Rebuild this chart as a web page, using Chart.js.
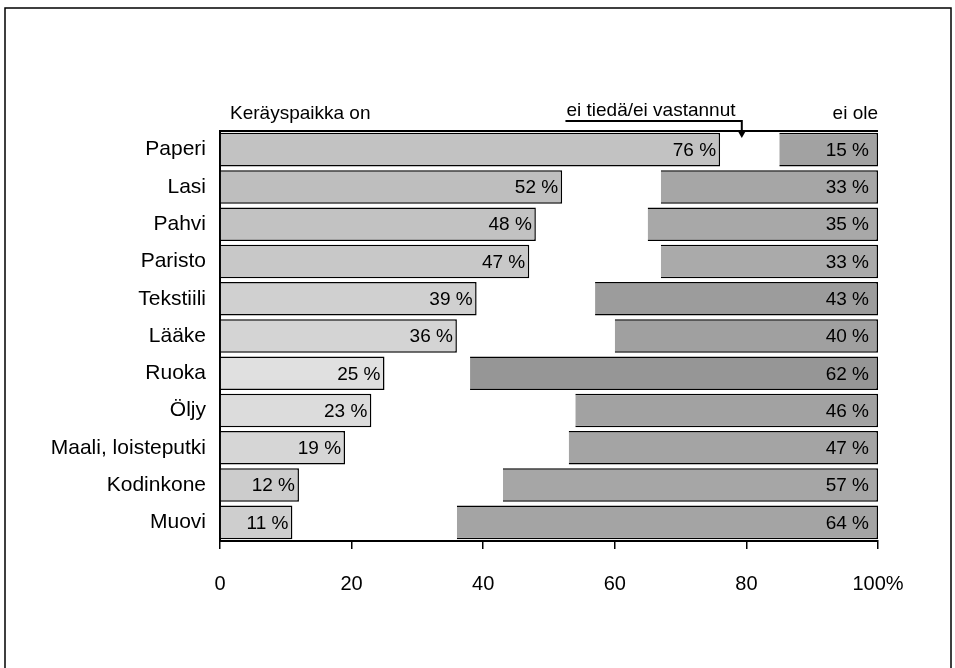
<!DOCTYPE html>
<html>
<head>
<meta charset="utf-8">
<script src="https://cdn.jsdelivr.net/npm/chart.js@4/dist/chart.umd.min.js"></script>
<style>
  html, body { margin: 0; padding: 0; background: #fff; }
  #wrap { width: 955px; height: 668px; position: relative; }
</style>
</head>
<body>
<div id="wrap"><canvas id="chart"></canvas></div>
<script>
const categories = ['Paperi', 'Lasi', 'Pahvi', 'Paristo', 'Tekstiili', 'Lääke', 'Ruoka', 'Öljy', 'Maali, loisteputki', 'Kodinkone', 'Muovi'];
const onValues = [76, 52, 48, 47, 39, 36, 25, 23, 19, 12, 11];
const eiOleValues = [15, 33, 35, 33, 43, 40, 62, 46, 47, 57, 64];
const gapValues = onValues.map((v, i) => 100 - v - eiOleValues[i]);
const xTickLabels = { 0: '0', 20: '20', 40: '40', 60: '60', 80: '80', 100: '100%' };

const onColors = ['#c2c2c2', '#bebebe', '#c2c2c2', '#c8c8c8', '#d0d0d0', '#d4d4d4', '#e0e0e0', '#dcdcdc', '#d6d6d6', '#cccccc', '#cecece'];
const eiOleColors = ['#a2a2a2', '#a6a6a6', '#a8a8a8', '#aaaaaa', '#9c9c9c', '#a0a0a0', '#969696', '#a2a2a2', '#a4a4a4', '#a6a6a6', '#a4a4a4'];

const FONT = '"Liberation Sans", Arial, Helvetica, sans-serif';

const extras = {
    id: 'extras',
    afterDraw(chart) {
        const ctx = chart.ctx;
        const area = chart.chartArea;
        const xs = chart.scales.x;
        ctx.save();
        // frame
        ctx.strokeStyle = '#000';
        ctx.lineWidth = 1.5;
        ctx.strokeRect(5, 8, 946, 670);
        // top line of plot
        ctx.lineWidth = 2;
        ctx.beginPath();
        ctx.moveTo(area.left, area.top);
        ctx.lineTo(area.right, area.top);
        ctx.stroke();
        // value labels
        ctx.fillStyle = '#000';
        ctx.font = '19px ' + FONT;
        ctx.textAlign = 'right';
        ctx.textBaseline = 'middle';
        const metaOn = chart.getDatasetMeta(0);
        metaOn.data.forEach((bar, i) => {
            ctx.fillText(onValues[i] + ' %', bar.x - 4, bar.y + 1);
            ctx.fillText(eiOleValues[i] + ' %', area.right - 9, bar.y + 1);
        });
        // header texts
        ctx.font = '19px ' + FONT;
        ctx.textBaseline = 'alphabetic';
        ctx.textAlign = 'left';
        ctx.fillText('Keräyspaikka on', area.left + 10, area.top - 12);
        ctx.textAlign = 'right';
        ctx.fillText('ei ole', area.right, area.top - 12);
        ctx.textAlign = 'center';
        ctx.fillText('ei tiedä/ei vastannut', xs.getPixelForValue(65.5), area.top - 15);
        // underline + arrow
        const x1 = xs.getPixelForValue(52.5);
        const x2 = xs.getPixelForValue(79.3);
        ctx.lineWidth = 2;
        ctx.beginPath();
        ctx.moveTo(x1, area.top - 10);
        ctx.lineTo(x2, area.top - 10);
        ctx.lineTo(x2, area.top + 1);
        ctx.stroke();
        ctx.beginPath();
        ctx.moveTo(x2 - 4, area.top);
        ctx.lineTo(x2 + 4, area.top);
        ctx.lineTo(x2, area.top + 7);
        ctx.closePath();
        ctx.fill();
        ctx.restore();
    }
};

new Chart(document.getElementById('chart'), {
    type: 'bar',
    data: {
        labels: categories,
        datasets: [{
            label: 'Keräyspaikka on',
            data: onValues,
            backgroundColor: onColors,
            borderColor: '#000',
            borderWidth: 1.5
        }, {
            label: 'ei tiedä/ei vastannut',
            data: gapValues,
            backgroundColor: 'rgba(0,0,0,0)',
            borderWidth: 0
        }, {
            label: 'ei ole',
            data: eiOleValues,
            backgroundColor: eiOleColors,
            borderColor: '#000',
            borderWidth: 1.5
        }]
    },
    options: {
        indexAxis: 'y',
        responsive: true,
        maintainAspectRatio: false,
        animation: false,
        layout: { padding: { left: 0, top: 131, right: 77, bottom: 0 } },
        datasets: { bar: { barPercentage: 0.9, categoryPercentage: 1 } },
        plugins: { legend: { display: false }, tooltip: { enabled: false } },
        scales: {
            x: {
                stacked: true,
                min: 0,
                max: 100,
                afterFit(scale) { scale.height = 127; },
                border: { display: true, color: '#000', width: 2 },
                grid: { drawOnChartArea: false, color: '#000', tickLength: 8, lineWidth: 1.5 },
                ticks: {
                    stepSize: 20,
                    color: '#000',
                    padding: 23,
                    font: { family: FONT, size: 20 },
                    callback: v => xTickLabels[v]
                }
            },
            y: {
                stacked: true,
                afterFit(scale) { scale.width = 220; },
                border: { display: true, color: '#000', width: 2 },
                grid: { display: false },
                ticks: {
                    color: '#000',
                    padding: 6,
                    font: { family: FONT, size: 21 }
                }
            }
        }
    },
    plugins: [extras]
});
</script>
</body>
</html>
